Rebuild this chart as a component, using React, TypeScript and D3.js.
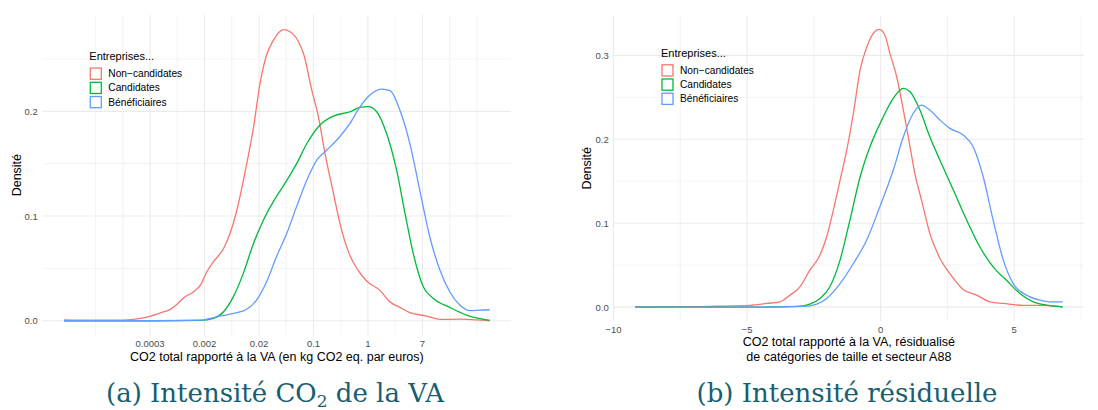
import React, { useEffect, useRef } from 'react';
import * as d3 from 'd3';

// series names + ggplot colours
const groups = ['Non\u2212candidates', 'Candidates', 'Bénéficiaires'];
const colors = ['#F8766D', '#00BA38', '#619CFF'];

// (a) log intensity, x = ln(CO2 / VA)
const aNonCand: [number, number][] = [
  [-11.16, 0.0008], [-10, 0.0005], [-9, 0.0006], [-8.35, 0.0023], [-7.98, 0.0045], [-7.62, 0.0076],
  [-7.25, 0.0109], [-7.0, 0.016], [-6.76, 0.022], [-6.4, 0.0277], [-6.15, 0.034], [-5.91, 0.047],
  [-5.67, 0.0564], [-5.3, 0.069], [-5.06, 0.0835], [-4.81, 0.106], [-4.45, 0.15], [-4.2, 0.185],
  [-3.96, 0.227], [-3.72, 0.254], [-3.47, 0.268], [-3.1, 0.278], [-2.86, 0.276], [-2.55, 0.2665],
  [-2.37, 0.2554], [-2.06, 0.22], [-1.82, 0.195], [-1.58, 0.16], [-1.27, 0.122], [-1.03, 0.093],
  [-0.72, 0.066], [-0.41, 0.05], [-0.05, 0.038], [0.44, 0.029], [0.81, 0.018], [1.17, 0.0128],
  [1.54, 0.0077], [2.15, 0.0045], [2.64, 0.0013], [3.37, 0.0015], [4.0, 0.0008], [4.47, 0.0002],
];
const aCand: [number, number][] = [
  [-11.16, 0], [-8, 0], [-6.15, 0.0003], [-5.67, 0.0022], [-5.3, 0.0086], [-4.94, 0.023],
  [-4.58, 0.045], [-4.2, 0.074], [-3.84, 0.096], [-3.47, 0.114], [-2.98, 0.134], [-2.62, 0.15],
  [-2.25, 0.169], [-1.76, 0.187], [-1.27, 0.1955], [-0.66, 0.1996], [-0.29, 0.2038], [0.01, 0.2044],
  [0.32, 0.1996], [0.68, 0.179], [1.05, 0.144], [1.36, 0.1026], [1.66, 0.0644], [2.03, 0.0325],
  [2.39, 0.0214], [3.0, 0.0128], [3.62, 0.0054], [4.47, 0.0003],
];
const aBenef: [number, number][] = [
  [-11.16, 0], [-8, 0], [-6.15, 0.0005], [-5.54, 0.0038], [-4.94, 0.007], [-4.45, 0.011],
  [-4.09, 0.0198], [-3.72, 0.0373], [-3.36, 0.061], [-2.98, 0.0835], [-2.62, 0.109], [-2.25, 0.134],
  [-1.88, 0.1535], [-1.51, 0.163], [-1.03, 0.176], [-0.66, 0.1885], [-0.29, 0.2044], [0.07, 0.2156],
  [0.5, 0.2213], [0.81, 0.2197], [1.17, 0.2012], [1.54, 0.169], [1.9, 0.1248], [2.27, 0.08],
  [2.64, 0.0484], [3.0, 0.0277], [3.37, 0.015], [3.74, 0.0096], [4.1, 0.0102], [4.47, 0.0105],
];

// (b) residual intensity
const bNonCand: [number, number][] = [
  [-9.19, 0.0004], [-7, 0.0005], [-6.14, 0.001], [-4.89, 0.002], [-4.26, 0.0044], [-3.77, 0.0063],
  [-3.39, 0.0143], [-3.02, 0.0242], [-2.65, 0.044], [-2.27, 0.062], [-2.02, 0.0838], [-1.77, 0.1156],
  [-1.52, 0.151], [-1.27, 0.187], [-1.02, 0.231], [-0.77, 0.2825], [-0.52, 0.31], [-0.28, 0.326],
  [-0.05, 0.331], [0.16, 0.324], [0.35, 0.302], [0.6, 0.2745], [0.85, 0.2348], [1.1, 0.191],
  [1.28, 0.159], [1.53, 0.1275], [1.84, 0.0878], [2.22, 0.058], [2.59, 0.04], [3.09, 0.021],
  [3.59, 0.0143], [4.09, 0.0063], [4.59, 0.0044], [5.33, 0.002], [6.08, 0.002], [6.81, 0.0004],
];
const bCand: [number, number][] = [
  [-9.19, 0], [-5, 0], [-3.14, 0.0008], [-2.65, 0.0036], [-2.27, 0.0103], [-1.9, 0.0242],
  [-1.52, 0.056], [-1.15, 0.1037], [-0.77, 0.155], [-0.4, 0.191], [0.1, 0.2268], [0.47, 0.2487],
  [0.85, 0.2607], [1.1, 0.2566], [1.47, 0.2348], [1.84, 0.203], [2.22, 0.175], [2.72, 0.1395],
  [3.22, 0.1037], [3.71, 0.0719], [4.21, 0.048], [4.71, 0.032], [5.21, 0.0163], [5.71, 0.0063],
  [6.21, 0.0024], [6.81, 0.0004],
];
const bBenef: [number, number][] = [
  [-9.19, 0], [-5, 0], [-2.9, 0.0008], [-2.39, 0.0036], [-2.02, 0.0103], [-1.52, 0.028],
  [-1.02, 0.052], [-0.52, 0.08], [-0.03, 0.1196], [0.47, 0.163], [0.85, 0.203], [1.22, 0.231],
  [1.53, 0.2408], [1.84, 0.2348], [2.22, 0.2229], [2.59, 0.213], [3.09, 0.205], [3.46, 0.191],
  [3.84, 0.155], [4.21, 0.1037], [4.59, 0.056], [4.96, 0.028], [5.46, 0.0143], [5.96, 0.0083],
  [6.33, 0.0063], [6.81, 0.0063],
];

// ticks
const aXBreaks = [-8, -6, -4, -2, 0, 2];
const aXLabels = ['0.0003', '0.002', '0.02', '0.1', '1', '7'];
const aXGrid = d3.range(-10, 5, 1);
const aYBreaks = [0, 0.1, 0.2];
const aYMinor = [0.05, 0.15, 0.25];
const bXBreaks = [-10, -5, 0, 5];
const bXLabels = ['\u221210', '\u22125', '0', '5'];
const bXMinor = [-7.5, -2.5, 2.5, 7.5];
const bYBreaks = [0, 0.1, 0.2, 0.3];
const bYMinor = [0.05, 0.15, 0.25];

const SANS = '"Liberation Sans", Arial, Helvetica, sans-serif';

interface PanelSpec {
  series: [number, number][][];
  xDomain: [number, number];
  yDomain: [number, number];
  left: number; right: number; top: number; bottom: number;
  xBreaks: number[]; xLabels: string[]; xMinor: number[];
  yBreaks: number[]; yMinor: number[];
  xTitle: string[];
  xTickY: number; xTitleY: number;
  yTitleX: number;
  legendX: number; legendY: number;
}

const App: React.FC = () => {
  const ref = useRef<SVGSVGElement | null>(null);

  useEffect(() => {
    if (!ref.current) return;
    const svg = d3.select(ref.current);
    svg.selectAll('*').remove();

    const drawPanel = (p: PanelSpec) => {
      const x = d3.scaleLinear().domain(p.xDomain).range([p.left, p.right]);
      const y = d3.scaleLinear().domain(p.yDomain).range([p.bottom, p.top]);
      const g = svg.append('g');

      // grid
      g.selectAll('.hmin').data(p.yMinor.filter(v => v < p.yDomain[1])).enter().append('line')
        .attr('x1', p.left).attr('x2', p.right).attr('y1', d => y(d)).attr('y2', d => y(d))
        .attr('stroke', '#ebebeb').attr('stroke-width', 0.6);
      g.selectAll('.vmin').data(p.xMinor.filter(v => v > p.xDomain[0] && v < p.xDomain[1])).enter().append('line')
        .attr('y1', p.top).attr('y2', p.bottom).attr('x1', d => x(d)).attr('x2', d => x(d))
        .attr('stroke', '#ebebeb').attr('stroke-width', 0.6);
      g.selectAll('.hmaj').data(p.yBreaks).enter().append('line')
        .attr('x1', p.left).attr('x2', p.right).attr('y1', d => y(d)).attr('y2', d => y(d))
        .attr('stroke', '#ebebeb').attr('stroke-width', 1.1);
      g.selectAll('.vmaj').data(p.xBreaks).enter().append('line')
        .attr('y1', p.top).attr('y2', p.bottom).attr('x1', d => x(d)).attr('x2', d => x(d))
        .attr('stroke', '#ebebeb').attr('stroke-width', 1.1);

      // curves
      const line = d3.line<[number, number]>().x(d => x(d[0])).y(d => y(d[1])).curve(d3.curveMonotoneX);
      p.series.forEach((s, i) => {
        g.append('path').attr('d', line(s) as string).attr('fill', 'none')
          .attr('stroke', colors[i]).attr('stroke-width', 1.3);
      });

      // tick labels
      g.selectAll('.xl').data(p.xBreaks).enter().append('text')
        .attr('x', d => x(d)).attr('y', p.xTickY).attr('text-anchor', 'middle')
        .attr('dominant-baseline', 'central')
        .style('font-family', SANS).style('font-size', '9.5px').style('fill', '#4d4d4d')
        .text((_d, i) => p.xLabels[i]);
      g.selectAll('.yl').data(p.yBreaks).enter().append('text')
        .attr('x', p.left - 5).attr('y', d => y(d)).attr('text-anchor', 'end')
        .attr('dominant-baseline', 'central')
        .style('font-family', SANS).style('font-size', '9.5px').style('fill', '#4d4d4d')
        .text(d => d3.format('.1f')(d));

      // titles
      p.xTitle.forEach((t, i) => {
        g.append('text').attr('x', (p.left + p.right) / 2).attr('y', p.xTitleY + i * 14.4)
          .attr('text-anchor', 'middle').attr('dominant-baseline', 'central')
          .style('font-family', SANS).style('font-size', '12.5px').style('fill', '#000')
          .text(t);
      });
      const yc = (p.top + p.bottom) / 2;
      g.append('text').attr('transform', `translate(${p.yTitleX},${yc}) rotate(-90)`)
        .attr('text-anchor', 'middle').attr('dominant-baseline', 'central')
        .style('font-family', SANS).style('font-size', '12.5px').style('fill', '#000')
        .text('Densité');

      // legend
      const lg = g.append('g').attr('transform', `translate(${p.legendX},${p.legendY})`);
      lg.append('text').attr('x', 0).attr('y', 0).attr('dominant-baseline', 'central')
        .style('font-family', SANS).style('font-size', '11px').text('Entreprises...');
      groups.forEach((name, i) => {
        const ry = 17.7 + i * 14.2;
        lg.append('rect').attr('x', 1).attr('y', ry - 5.6).attr('width', 11).attr('height', 11.2)
          .attr('fill', '#fff').attr('stroke', colors[i]).attr('stroke-width', 1.3);
        lg.append('text').attr('x', 19).attr('y', ry).attr('dominant-baseline', 'central')
          .style('font-family', SANS).style('font-size', '10.2px').text(name);
      });
    };

    drawPanel({
      series: [aNonCand, aCand, aBenef],
      xDomain: [-11.94, 5.25], yDomain: [-0.0139, 0.292],
      left: 42.7, right: 511, top: 15, bottom: 335.3,
      xBreaks: aXBreaks, xLabels: aXLabels, xMinor: aXGrid.filter(v => !aXBreaks.includes(v)),
      yBreaks: aYBreaks, yMinor: aYMinor,
      xTitle: ['CO2 total rapporté à la VA (en kg CO2 eq. par euros)'],
      xTickY: 343.3, xTitleY: 357.3, yTitleX: 16.5,
      legendX: 89.3, legendY: 56,
    });
    drawPanel({
      series: [bNonCand, bCand, bBenef],
      xDomain: [-9.99, 7.61], yDomain: [-0.01655, 0.3476],
      left: 613.7, right: 1084, top: 15.4, bottom: 321,
      xBreaks: bXBreaks, xLabels: bXLabels, xMinor: bXMinor,
      yBreaks: bYBreaks, yMinor: bYMinor,
      xTitle: ['CO2 total rapporté à la VA, résidualisé', 'de catégories de taille et secteur A88'],
      xTickY: 329.3, xTitleY: 342.3, yTitleX: 587.3,
      legendX: 661, legendY: 52.7,
    });

    // captions
    const cap = (cx: number, parts: { t: string; sub?: boolean }[]) => {
      const t = svg.append('text').attr('x', cx).attr('y', 402).attr('text-anchor', 'middle')
        .style('font-family', '"DejaVu Serif", "Liberation Serif", serif').style('font-size', '26px')
        .style('fill', '#175e70');
      parts.forEach(p => {
        const s = t.append('tspan').text(p.t);
        if (p.sub) s.attr('dy', 5).style('font-size', '17px');
        else if (p.t.startsWith(' ')) s.attr('dy', -5);
      });
    };
    cap(275, [{ t: '(a) Intensité CO' }, { t: '2', sub: true }, { t: ' de la VA' }]);
    cap(847, [{ t: '(b) Intensité résiduelle' }]);
  }, []);

  return (
    <div style={{ position: 'absolute', left: 0, top: 0 }}>
      <svg ref={ref} width={1098} height={410} style={{ display: 'block', background: '#fff' }}></svg>
    </div>
  );
};

export default App;
